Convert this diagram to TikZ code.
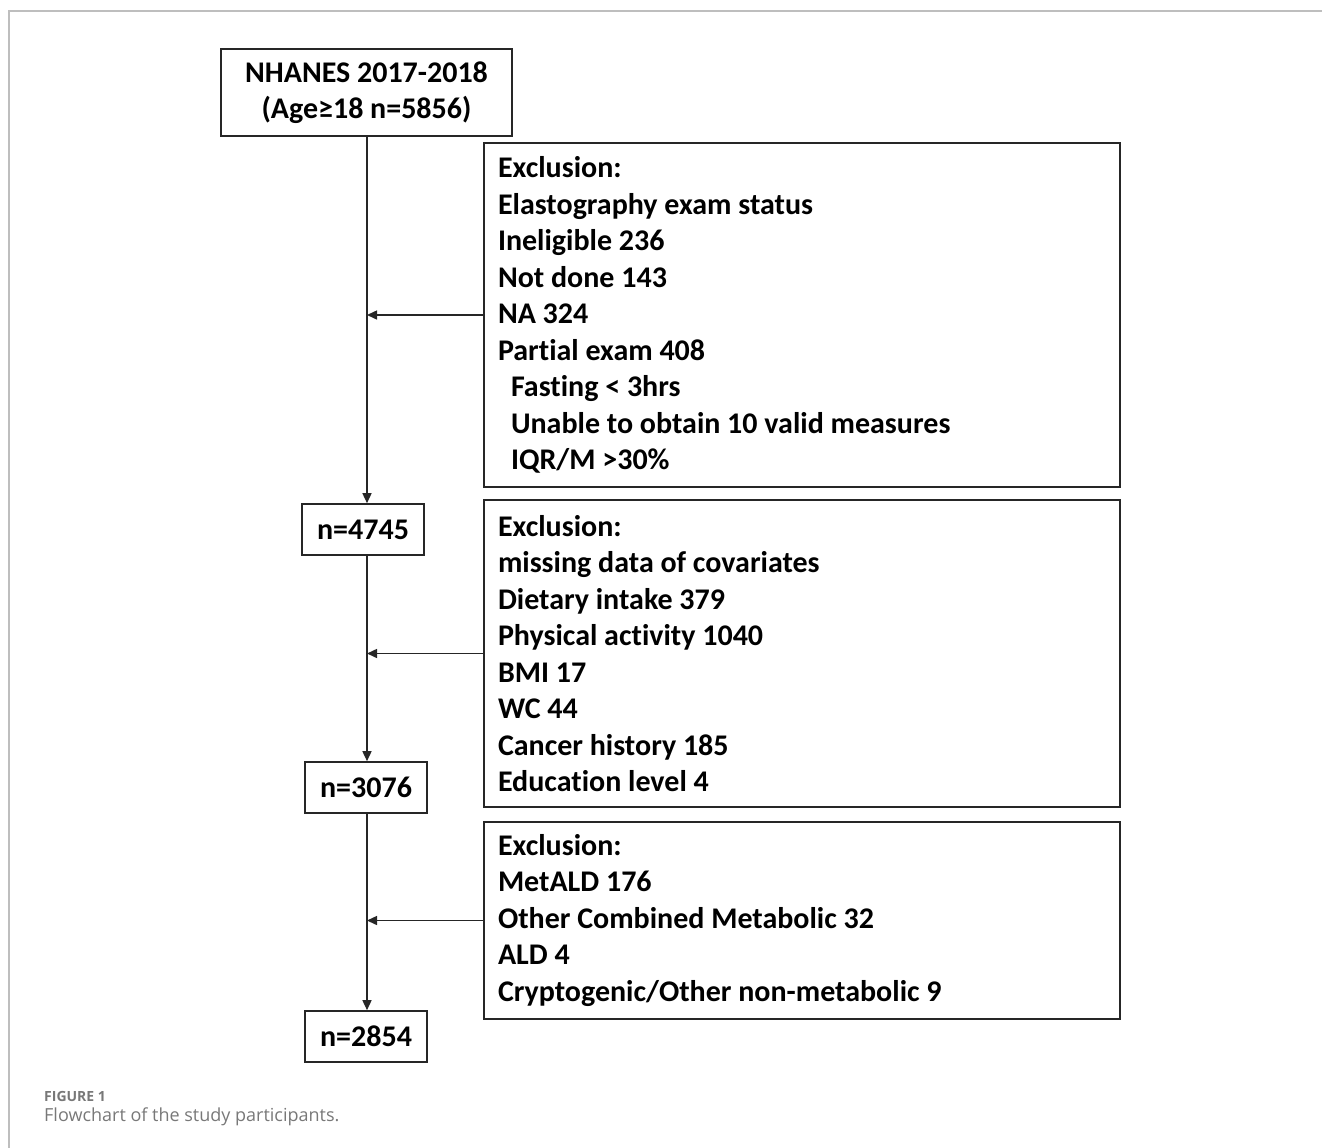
\documentclass[tikz,border=0pt]{standalone}
\usepackage{fontspec}
\setmainfont{Carlito}[Ligatures={NoCommon}]
\newfontfamily\capfont{Open Sans}
\usetikzlibrary{arrows.meta}
\definecolor{capgray}{RGB}{120,120,120}
\definecolor{framegray}{RGB}{190,190,190}
\begin{document}
\begin{tikzpicture}[x=1pt,y=-1pt,
  box/.style={draw=black!85, line width=1.6pt, font=\bfseries\fontsize{30}{36.5}\selectfont, inner sep=0pt},
  exbox/.style={box, text width=608pt, minimum width=636pt, inner xsep=14pt, align=flush left},
  nbox/.style={box, minimum width=122pt, minimum height=51pt},
  conn/.style={line width=1.5pt, draw=black!85},
  arr/.style={conn, -{Triangle[length=10pt,width=9pt]}},
  captext/.style={anchor=base west, inner sep=0pt, text=capgray}]
\useasboundingbox (0,0) rectangle (1322,1148);
\draw[framegray, line width=1.5pt] (1322,11) -- (9,11) -- (9,1148);
\coordinate (col) at (367,0);
\node[box, minimum width=291pt, minimum height=87pt, align=center] (top) at (366.5,92.5) {NHANES 2017-2018\\(Age≥18 n=5856)};
\node[nbox] (n1) at (363,529.5) {n=4745};
\node[nbox] (n2) at (366,787.5) {n=3076};
\node[nbox] (n3) at (366,1036.5) {n=2854};
\node[exbox, minimum height=344pt] (ex1) at (802,315) {Exclusion:\\Elastography exam status\\Ineligible 236\\Not done 143\\NA 324\\Partial exam 408\\\hspace*{13pt}Fasting < 3hrs\\\hspace*{13pt}Unable to obtain 10 valid measures\\\hspace*{13pt}IQR/M >30\%};
\node[exbox, minimum height=307pt] (ex2) at (802,653.5) {Exclusion:\\missing data of covariates\\Dietary intake 379\\Physical activity 1040\\BMI 17\\WC 44\\Cancer history 185\\Education level 4};
\node[exbox, minimum height=197pt] (ex3) at (802,920.5) {Exclusion:\\MetALD 176\\Other Combined Metabolic 32\\ALD 4\\Cryptogenic/Other non-metabolic 9};
\draw[arr] (col |- top.south) -- (col |- n1.north);
\draw[arr] (col |- n1.south) -- (col |- n2.north);
\draw[arr] (col |- n2.south) -- (col |- n3.north);
\draw[arr] (ex1.west) -- (ex1.west -| col);
\draw[arr] (ex2.west) -- (ex2.west -| col);
\draw[arr] (ex3.west) -- (ex3.west -| col);
\node[captext, font=\capfont\bfseries\fontsize{14}{16}\selectfont] (fig) at (44,1101) {FIGURE 1};
\node[captext, font=\capfont\fontsize{18}{21}\selectfont] (cap) at (44,1121) {Flowchart of the study participants.};
\end{tikzpicture}
\end{document}
